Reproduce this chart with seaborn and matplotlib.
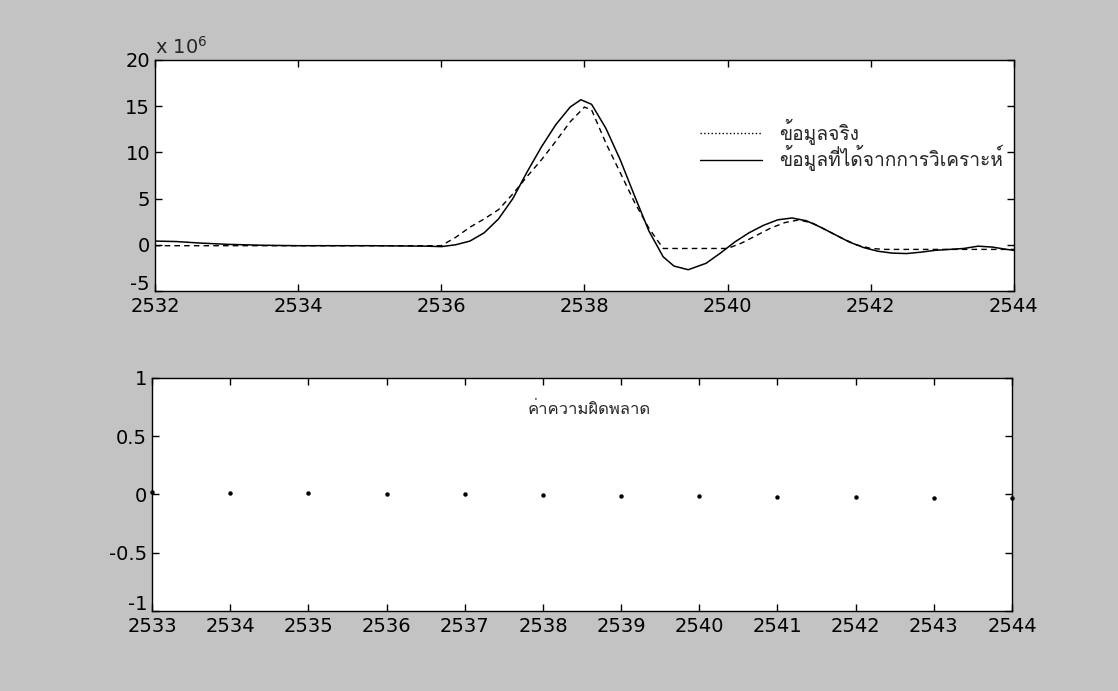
import numpy as np
import pandas as pd
import matplotlib
matplotlib.use("Agg")
import matplotlib.pyplot as plt
from matplotlib import font_manager
from matplotlib.lines import Line2D
from matplotlib.transforms import ScaledTranslation
import seaborn as sns

# ---------------- data (top panel, values in units of 10^6) ----------------
analysis_x = [2532.0, 2532.3, 2532.6, 2533.0, 2533.5, 2534.0, 2535.0, 2535.8, 2536.0,
              2536.2, 2536.4, 2536.6, 2536.8, 2537.0, 2537.2, 2537.4, 2537.6, 2537.8,
              2537.95, 2538.1, 2538.3, 2538.5, 2538.7, 2538.9, 2539.1, 2539.25, 2539.45,
              2539.7, 2539.9, 2540.1, 2540.3, 2540.5, 2540.7, 2540.9, 2541.1, 2541.3,
              2541.5, 2541.7, 2541.9, 2542.1, 2542.3, 2542.5, 2542.7, 2542.9, 2543.1,
              2543.3, 2543.5, 2543.7, 2543.9, 2544.0]
analysis_y = [0.4, 0.35, 0.2, 0.05, -0.05, -0.1, -0.1, -0.15, -0.2,
              0.0, 0.4, 1.3, 2.8, 5.0, 7.9, 10.6, 13.0, 14.9,
              15.7, 15.2, 12.6, 9.2, 5.3, 1.5, -1.3, -2.3, -2.7,
              -2.0, -0.9, 0.3, 1.3, 2.1, 2.7, 2.9, 2.6, 1.9,
              1.1, 0.3, -0.3, -0.7, -0.9, -0.95, -0.8, -0.6, -0.5,
              -0.4, -0.15, -0.25, -0.5, -0.6]

real_x = [2532.0, 2534.0, 2536.0, 2536.2, 2536.4, 2536.6, 2536.8, 2537.0, 2537.2,
          2537.4, 2537.6, 2537.8, 2538.0, 2538.1, 2538.3, 2538.5, 2538.7, 2538.9,
          2539.1, 2539.5, 2540.0, 2540.2, 2540.4, 2540.6, 2540.8, 2541.0, 2541.2,
          2541.4, 2541.6, 2541.8, 2542.0, 2542.2, 2543.0, 2544.0]
real_y = [-0.1, -0.1, -0.1, 0.8, 1.9, 2.8, 3.8, 5.5, 7.4,
          9.2, 11.2, 13.3, 14.9, 14.6, 11.0, 7.8, 4.6, 1.8,
          -0.4, -0.4, -0.4, 0.2, 1.0, 1.8, 2.4, 2.7, 2.3,
          1.5, 0.7, 0.0, -0.4, -0.5, -0.5, -0.5]

# ---------------- data (bottom panel) ----------------
error_x = [2533, 2534, 2535, 2536, 2537, 2538, 2539, 2540, 2541, 2542, 2543, 2544]
error_y = [0.02, 0.015, 0.01, 0.005, 0.0, -0.005, -0.01, -0.015, -0.02, -0.022, -0.028, -0.03]

top_xticks = [2532, 2534, 2536, 2538, 2540, 2542, 2544]
top_yticks = [-5, 0, 5, 10, 15, 20]
bot_xticks = list(range(2533, 2545))
bot_yticks = [-1, -0.5, 0, 0.5, 1]
bot_yticklabels = ["-1", "-0.5", "0", "0.5", "1"]

label_real = "ข้อมูลจริง"
label_analysis = "ข้อมูลที่ได้จากการวิเคราะห์"
error_title = "ค่าความผิดพลาด"

# ---------------- fonts ----------------
def find_thai_font():
    try:
        from fontTools.ttLib import TTFont
    except Exception:
        return None
    for f in font_manager.fontManager.ttflist:
        try:
            tt = TTFont(f.fname, fontNumber=0, lazy=True)
            cmap = tt.getBestCmap()
            if cmap and 0x0E02 in cmap and 0x0E27 in cmap:
                return f.name
        except Exception:
            continue
    return None

sns.set_theme(style="ticks")
thai = find_thai_font()
fam = ["DejaVu Sans"] + ([thai] if thai else [])
plt.rcParams["font.family"] = fam
thai_fam = ([thai] if thai else []) + ["DejaVu Sans"]

plt.rcParams.update({
    "xtick.direction": "in", "ytick.direction": "in",
    "xtick.top": True, "ytick.right": True,
    "xtick.major.size": 5, "ytick.major.size": 5,
    "xtick.major.width": 1.0, "ytick.major.width": 1.0,
    "axes.linewidth": 1.0, "axes.edgecolor": "black",
    "xtick.color": "black", "ytick.color": "black",
    "xtick.labelsize": 14, "ytick.labelsize": 14,
    "axes.unicode_minus": False,
})

fig = plt.figure(figsize=(11.18, 6.91), dpi=100)
fig.patch.set_facecolor("#c3c3c3")

ax1 = fig.add_axes([0.1386, 0.5789, 0.7683, 0.3343])
ax2 = fig.add_axes([0.1360, 0.1158, 0.7692, 0.3372])
for ax in (ax1, ax2):
    ax.set_facecolor("white")

df_a = pd.DataFrame({"x": analysis_x, "y": analysis_y})
df_r = pd.DataFrame({"x": real_x, "y": real_y})

sns.lineplot(data=df_r, x="x", y="y", ax=ax1, color="black", linewidth=1.0,
             estimator=None, sort=False)
ax1.lines[-1].set_dashes([4, 3])
sns.lineplot(data=df_a, x="x", y="y", ax=ax1, color="black", linewidth=1.1,
             estimator=None, sort=False)

ax1.set_xlim(2532, 2544)
ax1.set_ylim(-5, 20)
ax1.set_xticks(top_xticks)
ax1.set_yticks(top_yticks)
ax1.set_xlabel("")
ax1.set_ylabel("")
ax1.tick_params(axis="x", pad=4)
ax1.text(0.0, 1.01, r"x 10$^{6}$", transform=ax1.transAxes, ha="left", va="bottom",
         fontsize=14)

handles = [Line2D([], [], color="black", linestyle=":", linewidth=1.0),
           Line2D([], [], color="black", linestyle="-", linewidth=1.0)]
ax1.legend(handles, [label_real, label_analysis], loc="upper left",
           bbox_to_anchor=(0.615, 0.82), frameon=False, handlelength=3.2,
           handletextpad=0.9, labelspacing=0.02, prop={"family": thai_fam, "size": 13.8})

df_e = pd.DataFrame({"x": error_x, "y": error_y})
sns.scatterplot(data=df_e, x="x", y="y", ax=ax2, color="black", s=8,
                marker="o", edgecolor="black", linewidth=0.3, clip_on=False)
ax2.set_xlim(2533, 2544)
ax2.set_ylim(-1, 1)
ax2.set_xticks(bot_xticks)
ax2.set_yticks(bot_yticks)
ax2.set_yticklabels(bot_yticklabels)
ax2.set_xlabel("")
ax2.set_ylabel("")
ax2.tick_params(axis="x", pad=4)
ax2.text(2537.8, 0.73, error_title, ha="left", va="center", fontsize=12,
         family=thai_fam)

# lift the lowest y tick label a little, as in the original figure
for ax in (ax1, ax2):
    lbl = ax.get_yticklabels()[0]
    lbl.set_transform(lbl.get_transform() + ScaledTranslation(0, 6 / 72, fig.dpi_scale_trans))

fig.savefig("out.png", dpi=100, facecolor=fig.get_facecolor())
